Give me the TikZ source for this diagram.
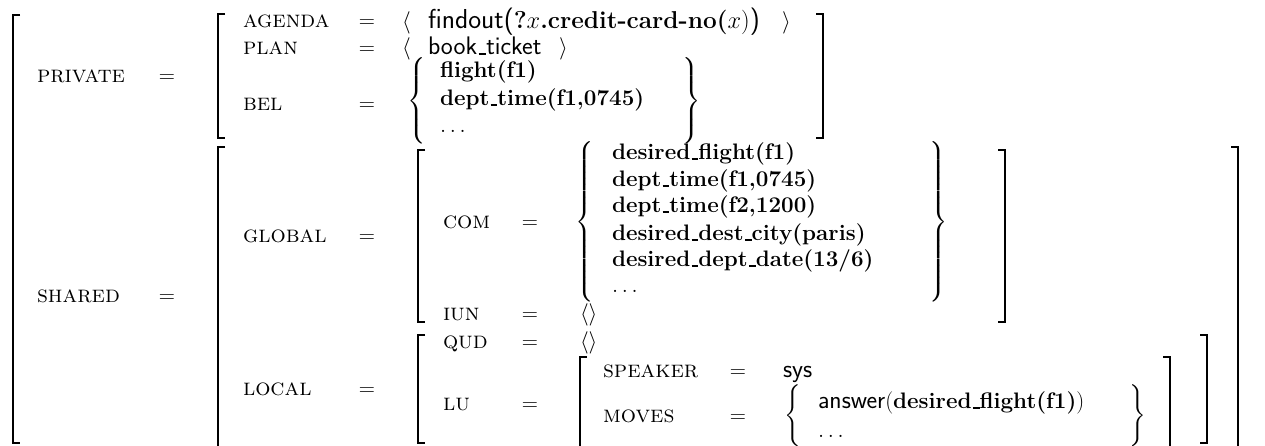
\RequirePackage{fix-cm}
\documentclass[tikz,border=0pt]{standalone}
\usepackage{exscale}
\delimiterfactor=1000
\delimitershortfall=0pt
\newcommand{\fnt}{\fontsize{22.5}{27}\selectfont}
\newcommand{\lfnt}{\fontsize{24}{28}\selectfont\scshape}
\newcommand{\sfv}[1]{{\fontsize{25.5}{30}\selectfont\sffamily #1}}
\newcommand{\sfw}[1]{{\fontsize{27.5}{32}\selectfont\sffamily #1}}
\newcommand{\us}{\leavevmode\kern.06em\vbox{\hrule width.3em height .07em}}
\newcommand{\bigbrace}[2]{$\left#1\vcenter{\hbox{\rule{0pt}{#2}}}\right.$}
\newcommand{\bigbraceR}[2]{$\left.\vcenter{\hbox{\rule{0pt}{#2}}}\right#1$}
\begin{document}
\begin{tikzpicture}[x=1bp,y=-1bp,
  every node/.style={inner sep=0pt,outer sep=0pt,font=\fnt},
  lbl/.style={anchor=base west,font=\lfnt},
  eqs/.style={anchor=base},
  val/.style={anchor=base west},
  brk/.style={line width=1.3bp},
  brc/.style={anchor=west}]
\useasboundingbox (0,0) rectangle (1265,446);
% ---------- brackets ----------
% outer
\draw[brk] (20,15) -- (13,15) -- (13,443) -- (20,443);
% PRIVATE inner
\draw[brk] (225,14) -- (218,14) -- (218,138) -- (225,138);
\draw[brk] (816,14) -- (823,14) -- (823,138) -- (816,138);
% SHARED inner
\draw[brk] (225,147) -- (218,147) -- (218,446);
\draw[brk] (1231,147) -- (1238,147) -- (1238,446);
% GLOBAL
\draw[brk] (425,150) -- (418,150) -- (418,322) -- (425,322);
\draw[brk] (998,150) -- (1005,150) -- (1005,322) -- (998,322);
% LOCAL
\draw[brk] (425,335) -- (418,335) -- (418,443) -- (425,443);
\draw[brk] (1200,335) -- (1207,335) -- (1207,443) -- (1200,443);
% LU
\draw[brk] (587,357) -- (580,357) -- (580,446);
\draw[brk] (1163,357) -- (1170,357) -- (1170,446);
% ---------- PRIVATE ----------
\node[lbl] (private) at (37,83) {private};
\node[eqs] (eqpriv) at (167,83) {$=$};
\node[lbl] (agenda) at (243,28) {agenda};
\node[eqs] (eqag) at (367,28) {$=$};
\node[val] (agl) at (402,29) {$\langle$};
\node[val,font=\fontsize{24.5}{29}\selectfont] (agv) at (428,29) {\sfw{findout(}\textbf{?}$x$\textbf{.credit-card-no(}$x$)\sfw{)}};
\node[val] (agr) at (782,29) {$\rangle$};
\node[lbl] (plan) at (243,55) {plan};
\node[eqs] (eqplan) at (367,55) {$=$};
\node[val] (pll) at (402,55) {$\langle$};
\node[val] (plv) at (428,55) {\sfv{book\us ticket}};
\node[val] (plr) at (559,55) {$\rangle$};
\node[lbl] (bel) at (243,111) {bel};
\node[eqs] (eqbel) at (367,111) {$=$};
\node[brc] (bell) at (407,101) {\bigbrace{\{}{82bp}};
\node[val] (bel1) at (440,78) {\textbf{flight(f1)}};
\node[val] (bel2) at (440,106) {\textbf{dept\us time(f1,0745)}};
\node[val] (bel3) at (440,133) {$\ldots$};
\node[brc] (belr) at (681,101) {\bigbraceR{\}}{82bp}};
% ---------- SHARED ----------
\node[lbl] (shared) at (37,303) {shared};
\node[eqs] (eqsh) at (167,303) {$=$};
\node[lbl] (global) at (243,243) {global};
\node[eqs] (eqgl) at (367,243) {$=$};
\node[lbl] (com) at (443,229) {com};
\node[eqs] (eqcom) at (530,229) {$=$};
\node[brc] (coml) at (575,222) {\bigbrace{\{}{158bp}};
\node[val] (c1) at (612,160) {\textbf{desired\us flight(f1)}};
\node[val] (c2) at (612,187) {\textbf{dept\us time(f1,0745)}};
\node[val] (c3) at (612,213) {\textbf{dept\us time(f2,1200)}};
\node[val] (c4) at (612,241) {\textbf{desired\us dest\us city(paris)}};
\node[val] (c5) at (612,267) {\textbf{desired\us dept\us date(13/6)}};
\node[val] (c6) at (612,293) {$\ldots$};
\node[brc] (comr) at (928,222) {\bigbraceR{\}}{158bp}};
\node[lbl] (iun) at (443,321) {iun};
\node[eqs] (eqiun) at (530,321) {$=$};
\node[val] (iunv) at (580,321) {$\langle\rangle$};
\node[lbl] (local) at (243,396) {local};
\node[eqs] (eqloc) at (367,396) {$=$};
\node[lbl] (qud) at (443,349) {qud};
\node[eqs] (eqqud) at (530,349) {$=$};
\node[val] (qudv) at (580,349) {$\langle\rangle$};
\node[lbl] (lu) at (443,411) {lu};
\node[eqs] (eqlu) at (530,411) {$=$};
\node[lbl] (speaker) at (603,378) {speaker};
\node[eqs] (eqsp) at (738,378) {$=$};
\node[val] (sys) at (783,378) {\sfv{sys}};
\node[lbl] (moves) at (603,423) {moves};
\node[eqs] (eqmv) at (738,423) {$=$};
\node[brc] (mvl) at (784,416) {\bigbrace{\{}{58bp}};
\node[val] (mv1) at (818,409) {\sfv{answer}(\textbf{desired\us flight(f1)})};
\node[val] (mv2) at (818,438) {$\ldots$};
\node[brc] (mvr) at (1128,416) {\bigbraceR{\}}{58bp}};
\end{tikzpicture}
\end{document}
